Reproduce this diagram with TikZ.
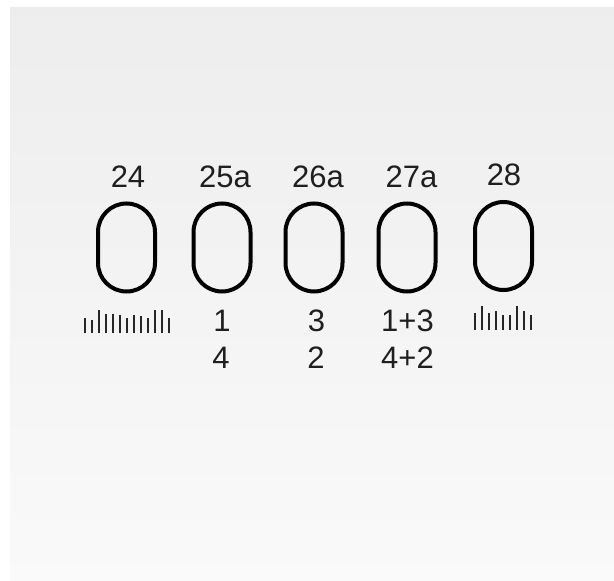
\documentclass[tikz,border=0pt]{standalone}
\usepackage{fontspec}
\setmainfont{Liberation Sans}
\tikzset{
  oval/.style={draw=black, line width=4pt, rounded corners=28.5pt, minimum width=57pt, minimum height=88pt, inner sep=0pt},
  toplabel/.style={anchor=base, inner sep=0pt, text=black!88, font=\fontsize{31}{37}\selectfont},
  tick/.style={line width=2pt, draw=black!85}
}
\begin{document}
\begin{tikzpicture}[x=1pt,y=-1pt]
\useasboundingbox (0,0) rectangle (614,581);
\fill[white] (0,0) rectangle (614,581);
\shade[top color=black!7, bottom color=black!2] (10,7) rectangle (614,581);
% ovals
\node[oval] (o24) at (126.5,247.5) {};
\node[oval] (o25) at (222,247.5) {};
\node[oval] (o26) at (314,247.5) {};
\node[oval] (o27) at (407,247.5) {};
\node[oval] (o28) at (503.5,246) {};
% top labels
\node[toplabel] (l24) at (128,187) {24};
\node[toplabel] (l25) at (225,187) {25a};
\node[toplabel] (l26) at (318,187) {26a};
\node[toplabel] (l27) at (411.5,187) {27a};
\node[toplabel] (l28) at (504,185) {28};
% bottom labels
\node[toplabel] (b25a) at (222,331.5) {1};
\node[toplabel] (b25b) at (221,368.5) {4};
\node[toplabel] (b26a) at (316.5,331.5) {3};
\node[toplabel] (b26b) at (316,368.5) {2};
\node[toplabel] (b27a) at (407.5,331.5) {1+3};
\node[toplabel] (b27b) at (407.5,368.5) {4+2};
% ticks under 24
\foreach \x/\t in {84.7/318, 91.7/320, 98.7/309.5, 105.7/314, 112.7/314, 119.7/315, 126.7/318, 133.7/315, 140.7/316, 147.7/318, 154.7/309.5, 161.7/309.5, 168.7/318}
  \draw[tick] (\x,333) -- (\x,\t);
% ticks under 28
\foreach \x/\t in {474.7/313, 481.7/305.5, 488.7/313, 495.7/311, 502.7/314.5, 509.7/314.5, 516.7/305.5, 523.7/311, 530.7/314.5}
  \draw[tick] (\x,330) -- (\x,\t);
\end{tikzpicture}
\end{document}
